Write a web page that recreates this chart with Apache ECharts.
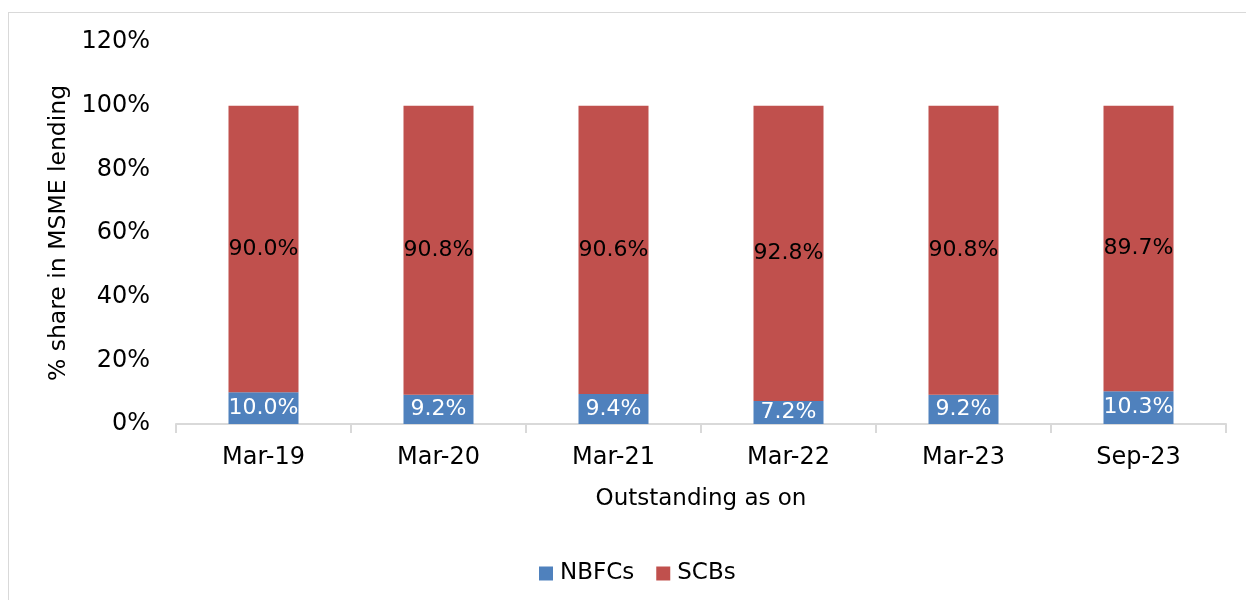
<!DOCTYPE html>
<html>
<head>
<meta charset="utf-8">
<script src="https://cdn.jsdelivr.net/npm/echarts@6/dist/echarts.min.js"></script>
<style>
  html, body { margin: 0; padding: 0; background: #fff; }
  #chart { width: 1246px; height: 600px; }
  #frame { position: absolute; left: 8px; top: 12px; width: 1250px; height: 600px; border: 1px solid #d9d9d9; pointer-events: none; }
</style>
</head>
<body>
<div id="chart"></div>
<div id="frame"></div>
<script>
  const categories = ['Mar-19', 'Mar-20', 'Mar-21', 'Mar-22', 'Mar-23', 'Sep-23'];
  const nbfcs = [10.0, 9.2, 9.4, 7.2, 9.2, 10.3];
  const scbs = [90.0, 90.8, 90.6, 92.8, 90.8, 89.7];

  const font = 'Tahoma, "DejaVu Sans", sans-serif';
  let chart = echarts.init(document.getElementById('chart'));
  chart.setOption({
    animation: false,
    textStyle: {fontFamily: font},
    grid: {left: 176, right: 20, top: 42, bottom: 176},
    legend: {
      bottom: 10,
      left: 534,
      itemWidth: 14,
      itemHeight: 14,
      itemGap: 22,
      icon: 'rect',
      textStyle: {fontSize: 23, color: '#000', fontFamily: font, padding: [0, 0, 0, 2]},
      data: ['NBFCs', 'SCBs']
    },
    xAxis: {
      type: 'category',
      data: categories,
      name: 'Outstanding as on',
      nameLocation: 'middle',
      nameGap: 64,
      nameTextStyle: {fontSize: 23, color: '#000'},
      axisLine: {lineStyle: {color: '#d9d9d9', width: 2}},
      axisTick: {show: true, length: 9, lineStyle: {color: '#d9d9d9', width: 2}},
      axisLabel: {fontSize: 24, color: '#000', margin: 22}
    },
    yAxis: {
      type: 'value',
      min: 0,
      max: 120,
      interval: 20,
      name: '% share in MSME lending',
      nameLocation: 'middle',
      nameGap: 104,
      nameTextStyle: {fontSize: 23.5, color: '#000'},
      axisLine: {show: false},
      axisTick: {show: false},
      splitLine: {show: false},
      axisLabel: {fontSize: 24, color: '#000', margin: 26, formatter: '{value}%'}
    },
    series: [
      {
        name: 'NBFCs',
        type: 'bar',
        stack: 'total',
        barWidth: '40%',
        data: nbfcs,
        itemStyle: {color: '#4f81bd'},
        label: {
          show: true, position: 'inside', color: '#fff', fontSize: 22,
          formatter: p => p.value.toFixed(1) + '%'
        }
      },
      {
        name: 'SCBs',
        type: 'bar',
        stack: 'total',
        data: scbs,
        itemStyle: {color: '#c0504d'},
        label: {
          show: true, position: 'inside', color: '#000', fontSize: 22,
          formatter: p => p.value.toFixed(1) + '%'
        }
      }
    ]
  });
</script>
</body>
</html>
